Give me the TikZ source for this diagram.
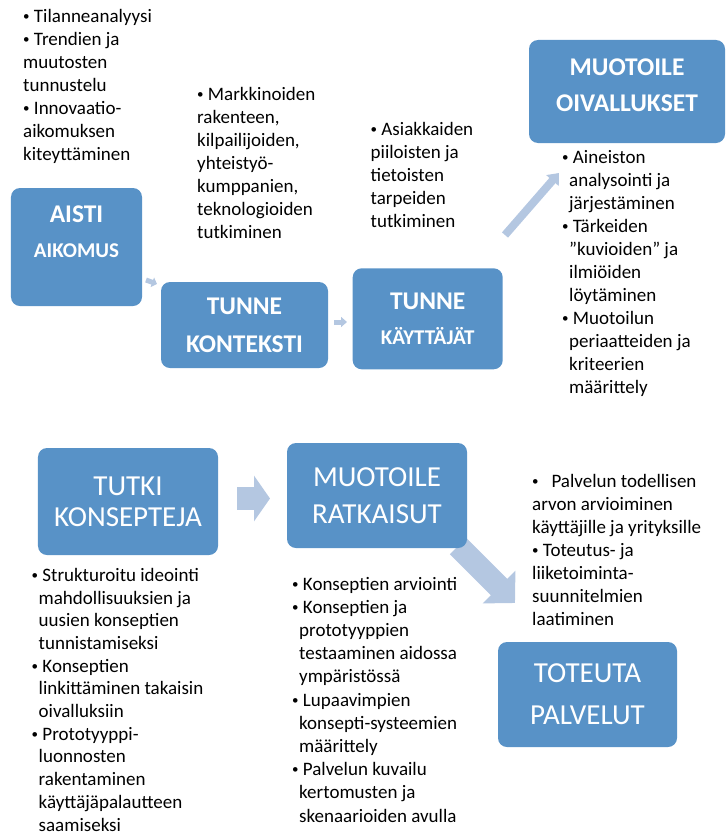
\documentclass[tikz,border=0pt]{standalone}
\usepackage{fontspec}
\setmainfont{Carlito}
\usetikzlibrary{arrows.meta}
\definecolor{boxblue}{RGB}{88,146,199}
\definecolor{arrowblue}{RGB}{180,199,225}
\newcommand{\bul}{\raisebox{1.8bp}{\fontsize{13bp}{0bp}\selectfont\textbullet}}
\newcommand{\itm}{\bul\ }
\newcommand{\hitm}{\hspace*{-7bp}\bul\ }

\begin{document}
\begin{tikzpicture}[x=1bp, y=-1bp]
  \tikzstyle{stage}=[rectangle, rounded corners=9bp, fill=boxblue, text=white, align=center, inner sep=0pt]
  \tikzstyle{topfont}=[font=\fontsize{25.5bp}{36bp}\selectfont\bfseries]
  \tikzstyle{lowfont}=[font=\fontsize{29bp}{37bp}\selectfont]
  \tikzstyle{notes}=[align=left, inner sep=0pt, anchor=base west, font=\fontsize{19bp}{23bp}\selectfont]
  \tikzstyle{flow}=[draw=arrowblue]
  \useasboundingbox (0,0) rectangle (726,836);

  \coordinate (f1a) at (146,280);   \coordinate (f1b) at (157,284);
  \coordinate (f2a) at (334,322);   \coordinate (f2b) at (347,322);
  \coordinate (f3a) at (505,235);   \coordinate (f3b) at (559,173);
  \coordinate (f4a) at (237,498.5); \coordinate (f4b) at (270,498.5);
  \coordinate (f5a) at (458,546);   \coordinate (f5b) at (515,603);
  \draw[flow, line width=5bp, -{Triangle[width=10bp,length=5bp]}] (f1a) -- (f1b);
  \draw[flow, line width=5bp, -{Triangle[width=10bp,length=6bp]}] (f2a) -- (f2b);
  \draw[flow, line width=8bp, -{Triangle[width=16bp,length=10bp]}] (f3a) -- (f3b);
  \draw[flow, line width=23bp, -{Triangle[width=45bp,length=16bp]}] (f4a) -- (f4b);
  \draw[flow, line width=23bp, -{Triangle[width=45bp,length=22.6bp]}] (f5a) -- (f5b);

  \node[stage, topfont, minimum width=131bp, minimum height=118bp, font=\fontsize{25.5bp}{35.6bp}\selectfont\bfseries] (aisti) at (76.5,247)
    {AISTI\\{\fontsize{21bp}{35.6bp}\selectfont AIKOMUS}\\[-5bp]\mbox{}};
  \node[stage, topfont, minimum width=167bp, minimum height=86bp, font=\fontsize{25.5bp}{38bp}\selectfont\bfseries] (konteksti) at (244.5,325)
    {TUNNE\\KONTEKSTI};
  \node[stage, topfont, minimum width=150bp, minimum height=101bp, font=\fontsize{25.5bp}{35.2bp}\selectfont\bfseries] (kayttajat) at (427.7,318.8)
    {TUNNE\\{\fontsize{21bp}{35.2bp}\selectfont KÄYTTÄJÄT}};
  \node[stage, topfont, minimum width=196bp, minimum height=103bp] (oivallukset) at (627,91.5)
    {MUOTOILE\\OIVALLUKSET\\[-23bp]\mbox{}};
  \node[stage, lowfont, minimum width=180bp, minimum height=107bp, font=\fontsize{29bp}{31bp}\selectfont] (tutki) at (128,501.5)
    {TUTKI\\KONSEPTEJA};
  \node[stage, lowfont, minimum width=180bp, minimum height=105bp] (ratkaisut) at (377,495.5)
    {MUOTOILE\\RATKAISUT};
  \node[stage, lowfont, minimum width=179bp, minimum height=105bp, font=\fontsize{29bp}{42bp}\selectfont] (toteuta) at (587.5,694.5)
    {TOTEUTA\\PALVELUT};

  % base = baseline of the last line
  \node[notes] (aistiN) at (23,160.7)
    {\itm Tilanneanalyysi\\\itm Trendien ja\\muutosten\\tunnustelu\\\itm Innovaatio-\\aikomuksen\\kiteyttäminen};
  \node[notes] (kontekstiN) at (197,238.7)
    {\itm Markkinoiden\\rakenteen,\\kilpailijoiden,\\yhteistyö-\\kumppanien,\\teknologioiden\\tutkiminen};
  \node[notes] (kayttajatN) at (370.5,227)
    {\itm Asiakkaiden\\piiloisten ja\\tietoisten\\tarpeiden\\tutkiminen};
  \node[notes] (oivalluksetN) at (569,393.3)
    {\hitm Aineiston\\analysointi ja\\järjestäminen\\\hitm Tärkeiden\\”kuvioiden” ja\\ilmiöiden\\löytäminen\\\hitm Muotoilun\\periaatteiden ja\\kriteerien\\määrittely};
  \node[notes, font=\fontsize{19bp}{22.7bp}\selectfont] (tutkiN) at (38.5,831)
    {\hitm Strukturoitu ideointi\\mahdollisuuksien ja\\uusien konseptien\\tunnistamiseksi\\\hitm Konseptien\\linkittäminen takaisin\\oivalluksiin\\\hitm Prototyyppi-\\luonnosten\\rakentaminen\\käyttäjäpalautteen\\saamiseksi};
  \node[notes, font=\fontsize{19bp}{23.2bp}\selectfont] (ratkaisutN) at (299,822)
    {\hitm Konseptien arviointi\\\hitm Konseptien ja\\prototyyppien\\testaaminen aidossa\\ympäristössä\\\hitm Lupaavimpien\\konsepti-systeemien\\määrittely\\\hitm Palvelun kuvailu\\kertomusten ja\\skenaarioiden avulla};
  \node[notes] (toteutaN) at (532,625.3)
    {\itm\ \ Palvelun todellisen\\arvon arvioiminen\\käyttäjille ja yrityksille\\\itm Toteutus- ja\\liiketoiminta-\\suunnitelmien\\laatiminen};
\end{tikzpicture}
\end{document}
